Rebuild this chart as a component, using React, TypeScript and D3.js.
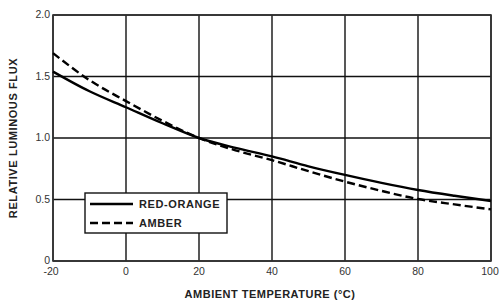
import * as d3 from "d3";

const temps = [-20, -10, 0, 10, 20, 30, 40, 50, 60, 70, 80, 90, 100];
const redOrange = [1.54, 1.38, 1.25, 1.12, 1.0, 0.92, 0.85, 0.77, 0.7, 0.635, 0.577, 0.53, 0.488];
const amber = [1.69, 1.47, 1.3, 1.14, 1.0, 0.9, 0.82, 0.73, 0.645, 0.57, 0.504, 0.46, 0.42];
const xTicks = [-20, 0, 20, 40, 60, 80, 100];
const yTicks = [0, 0.5, 1.0, 1.5, 2.0];
const yTickLabels = ["0", "0.5", "1.0", "1.5", "2.0"];
const seriesNames = ["RED-ORANGE", "AMBER"];

export default function App() {
  const width = 499;
  const height = 303;
  const marginLeft = 53;
  const marginRight = 8;
  const marginTop = 15;
  const marginBottom = 42;

  const x = d3.scaleLinear([-20, 100], [marginLeft, width - marginRight]);
  const y = d3.scaleLinear([0, 2], [height - marginBottom, marginTop]);

  const line = d3
    .line<number>()
    .x((d, i) => x(temps[i]))
    .y((d) => y(d))
    .curve(d3.curveMonotoneX);

  const font = "'Liberation Sans', Arial, sans-serif";

  return (
    <svg
      width={width}
      height={height}
      style={{ position: "absolute", left: 0, top: 0, background: "#fff" }}
      fontFamily={font}
    >
      {/* grid */}
      <g stroke="#111" strokeWidth="1.4">
        {xTicks.map((t) => (
          <line key={"x" + t} x1={x(t)} x2={x(t)} y1={y(0)} y2={y(2)} />
        ))}
        {yTicks.map((t) => (
          <line key={"y" + t} x1={x(-20)} x2={x(100)} y1={y(t)} y2={y(t)} />
        ))}
      </g>
      <rect
        x={x(-20)}
        y={y(2)}
        width={x(100) - x(-20)}
        height={y(0) - y(2)}
        fill="none"
        stroke="#333"
        strokeWidth="1.6"
      />

      {/* curves */}
      <path d={line(redOrange) ?? ""} fill="none" stroke="#000" strokeWidth="2.4" />
      <path
        d={line(amber) ?? ""}
        fill="none"
        stroke="#000"
        strokeWidth="2.4"
        strokeDasharray="8,4"
      />

      {/* y tick labels */}
      <g fontSize="10.5" fill="#333" textAnchor="end">
        {yTicks.map((t, i) => (
          <text key={t} x={x(-20) - 3} y={y(t) + 3}>
            {yTickLabels[i]}
          </text>
        ))}
      </g>
      {/* x tick labels */}
      <g fontSize="10.5" fill="#333" textAnchor="middle">
        {xTicks.map((t) => (
          <text key={t} x={t === 100 ? x(t) - 1 : t === -20 ? x(t) - 2 : x(t)} y={y(0) + 14}>
            {t}
          </text>
        ))}
      </g>

      {/* axis titles */}
      <text
        x={270}
        y={298}
        fontSize="11"
        fontWeight="bold"
        fill="#222"
        textAnchor="middle"
        letterSpacing="0.5"
      >
        AMBIENT TEMPERATURE (°C)
      </text>
      <text
        transform={`translate(17,${y(1)}) rotate(-90)`}
        fontSize="11"
        fontWeight="bold"
        fill="#222"
        textAnchor="middle"
        letterSpacing="0.6"
      >
        RELATIVE LUMINOUS FLUX
      </text>

      {/* legend */}
      <g>
        <rect x={85} y={193} width={142} height={40} fill="#fff" stroke="#111" strokeWidth="1.4" />
        <line x1={90} x2={133} y1={204} y2={204} stroke="#000" strokeWidth="2.4" />
        <line x1={90} x2={133} y1={223} y2={223} stroke="#000" strokeWidth="2.4" strokeDasharray="8,4" />
        <text x={139} y={208} fontSize="11" fontWeight="bold" fill="#222" letterSpacing="0.6">
          {seriesNames[0]}
        </text>
        <text x={139} y={227} fontSize="11" fontWeight="bold" fill="#222" letterSpacing="0.6">
          {seriesNames[1]}
        </text>
      </g>
    </svg>
  );
}
